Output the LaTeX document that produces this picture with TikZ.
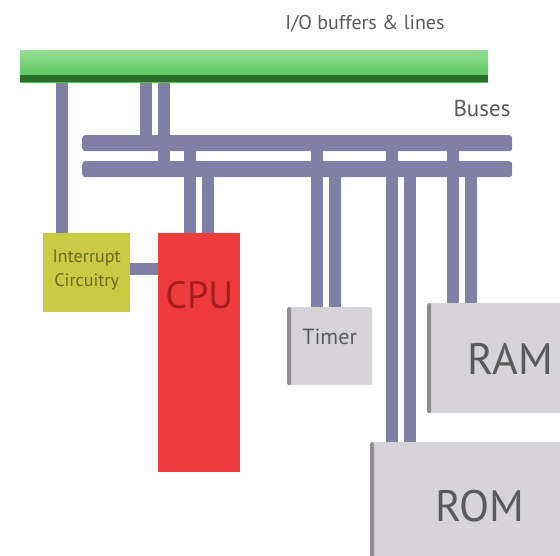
\documentclass[tikz,border=0pt]{standalone}
\usepackage{fontspec}
\setmainfont{PT Sans}
\usetikzlibrary{positioning,calc,backgrounds}

\definecolor{busgray}{HTML}{8080A6}
\definecolor{iogreen}{HTML}{4FC44F}
\definecolor{iodark}{HTML}{2C6E2C}
\definecolor{irqyellow}{HTML}{CACA44}
\definecolor{irqtext}{HTML}{6A6A1E}
\definecolor{cpured}{HTML}{EE3B3B}
\definecolor{cputext}{HTML}{A81C1C}
\definecolor{boxgray}{HTML}{D6D4D8}
\definecolor{boxedge}{HTML}{8F8D92}
\definecolor{labelgray}{HTML}{5A5A5A}

\tikzset{
  chip/.style={inner sep=0pt, anchor=north west},
  graybox/.style={chip, fill=boxgray, rounded corners=2pt,
    path picture={\fill[boxedge] (path picture bounding box.north west)
      rectangle ([xshift=4pt]path picture bounding box.south west);}},
  busbar/.style={chip, fill=busgray, rounded corners=3pt,
    minimum width=430pt, minimum height=16pt},
  wire/.style={line width=12pt, draw=busgray},
  caption/.style={text=labelgray, font=\fontsize{21}{23}\selectfont},
}

\begin{document}
\begin{tikzpicture}[x=1pt,y=-1pt]
  \useasboundingbox (0,0) rectangle (560,556);

  % I/O bar and buses
  \node[chip, minimum width=468pt, minimum height=32pt, top color=iogreen!60!white,
    bottom color=iogreen,
    path picture={\fill[iodark] ([yshift=7pt]path picture bounding box.south west)
      rectangle (path picture bounding box.south east);}] (io) at (20,50) {};
  \node[caption, font=\fontsize{20}{22}\selectfont] (iolabel) at (365,24) {I/O buffers \& lines};
  \node[caption, font=\fontsize{23}{25}\selectfont] (buslabel) at (482,108) {Buses};
  \node[busbar] (bus1) at (82,135) {};
  \node[busbar] (bus2) at (82,161) {};

  % Blocks
  \node[chip, fill=irqyellow, minimum width=87pt, minimum height=79pt] (irq) at (43,233) {};
  \node[text=irqtext, align=center, font=\fontsize{18}{24}\selectfont] (irqlabel)
    at ($(irq.center)+(0,-3)$) {Interrupt\\Circuitry};
  \node[chip, fill=cpured, minimum width=82pt, minimum height=239pt] (cpu) at (158,233) {};
  \node[text=cputext, font=\fontsize{38}{40}\selectfont] (cpulabel)
    at ($(cpu.north)+(0,62)$) {CPU};
  \node[graybox, minimum width=85pt, minimum height=78pt] (timer) at (287,307) {};
  \node[text=labelgray, font=\fontsize{22}{24}\selectfont] (timerlabel)
    at ($(timer.north)+(0,30)$) {Timer};
  \node[graybox, minimum width=136pt, minimum height=110pt] (ram) at (427,303) {};
  \node[text=labelgray, font=\fontsize{44}{46}\selectfont] (ramlabel)
    at (510,359) {RAM};
  \node[graybox, minimum width=193pt, minimum height=117pt] (rom) at (370,442) {};
  \node[text=labelgray, font=\fontsize{44}{46}\selectfont] (romlabel)
    at (480,506) {ROM};

  % Wire positions
  \coordinate (w1) at (62,0);
  \coordinate (w2) at (146,0);
  \coordinate (w3) at (164,0);
  \coordinate (w4) at (190,0);
  \coordinate (w5) at (208,0);
  \coordinate (w6) at (317,0);
  \coordinate (w7) at (335,0);
  \coordinate (w8) at (392,0);
  \coordinate (w9) at (410,0);
  \coordinate (w10) at (453,0);
  \coordinate (w11) at (471,0);

  % Connectors, under the buses
  \begin{scope}[on background layer]
    \draw[wire] (io.south -| w1) -- (irq.north -| w1);
    \draw[wire] (io.south -| w2) -- (bus1.center -| w2);
    \draw[wire] (io.south -| w3) -- (bus2.center -| w3);
    \draw[wire] (bus1.center -| w4) -- (cpu.north -| w4);
    \draw[wire] (bus2.center -| w5) -- (cpu.north -| w5);
    \draw[wire] (bus1.center -| w6) -- (timer.north -| w6);
    \draw[wire] (bus2.center -| w7) -- (timer.north -| w7);
    \draw[wire] (bus1.center -| w8) -- (rom.north -| w8);
    \draw[wire] (bus2.center -| w9) -- (rom.north -| w9);
    \draw[wire] (bus1.center -| w10) -- (ram.north -| w10);
    \draw[wire] (bus2.center -| w11) -- (ram.north -| w11);
    \draw[wire] ([yshift=4pt]irq.east) -- ([yshift=4pt]irq.east -| cpu.west);
  \end{scope}
\end{tikzpicture}
\end{document}
